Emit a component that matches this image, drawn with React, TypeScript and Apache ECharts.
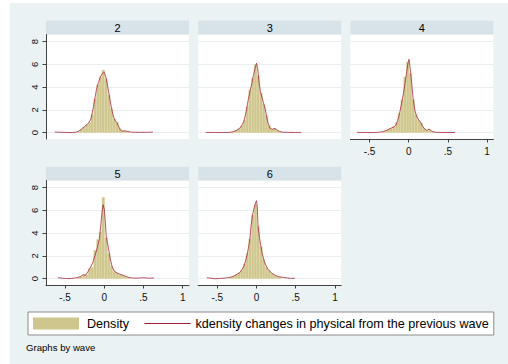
import React, { useEffect, useRef } from "react";
import * as echarts from "echarts";

// ---------- data ----------
const WAVES = ["2", "3", "4", "5", "6"];
const X_TICKS = [-0.5, 0, 0.5, 1];
const X_TICK_LABELS = ["-.5", "0", ".5", "1"];
const Y_TICKS = [0, 2, 4, 6, 8];
const X_MIN = -0.743;
const X_MAX = 1.08;
const Y_MIN = -0.55;
const Y_MAX = 8.62;

const BIN_START = -0.345;
const BIN_WIDTH = 0.035;

const HIST_2 = [0.1, 0.3, 0.5, 0.7, 0.9, 1.6, 3.0, 4.2, 4.9, 5.5, 4.7, 3.3, 2.1, 1.2, 0.9, 0.4, 0.15, 0.15, 0.1];
const HIST_3 = [0.04, 0.08, 0.2, 0.35, 0.6, 1.1, 2.3, 3.75, 4.8, 6.0, 5.0, 3.5, 2.5, 1.5, 0.6, 0.3, 0.35, 0.2, 0.08];
const HIST_4 = [0.08, 0.15, 0.3, 0.4, 0.55, 0.9, 1.7, 2.9, 4.9, 6.2, 5.2, 2.9, 1.6, 1.1, 0.85, 0.4, 0.2, 0.3, 0.1];
const HIST_5 = [0.1, 0.2, 0.35, 0.35, 0.9, 1.0, 2.5, 3.45, 4.1, 7.15, 3.6, 2.2, 1.1, 0.65, 0.5, 0.35, 0.3, 0.2, 0.1];
const HIST_6 = [0.12, 0.2, 0.35, 0.5, 0.75, 1.3, 2.2, 3.5, 5.6, 6.5, 4.6, 2.8, 1.7, 1.0, 0.7, 0.45, 0.3, 0.2, 0.12];

const KDE_2: [number, number][] = [
  [-0.63, 0.06], [-0.55, 0.04], [-0.45, 0.02], [-0.4, 0.02], [-0.35, 0.06], [-0.3, 0.25],
  [-0.25, 0.55], [-0.2, 0.85], [-0.17, 1.2], [-0.14, 2.2], [-0.12, 3.0], [-0.1, 3.8],
  [-0.075, 4.4], [-0.05, 4.9], [-0.025, 5.2], [0.0, 5.3], [0.02, 4.9], [0.04, 4.2],
  [0.06, 3.4], [0.08, 2.6], [0.1, 1.9], [0.12, 1.35], [0.14, 1.05], [0.16, 0.9],
  [0.18, 0.6], [0.2, 0.3], [0.22, 0.15], [0.25, 0.15], [0.27, 0.17], [0.3, 0.1],
  [0.35, 0.05], [0.45, 0.03], [0.55, 0.04], [0.62, 0.05],
];
const KDE_3: [number, number][] = [
  [-0.645, 0.03], [-0.55, 0.02], [-0.45, 0.02], [-0.35, 0.03], [-0.3, 0.08], [-0.26, 0.18],
  [-0.22, 0.35], [-0.19, 0.6], [-0.16, 1.0], [-0.13, 1.9], [-0.105, 2.9], [-0.08, 3.7],
  [-0.06, 4.3], [-0.04, 5.0], [-0.02, 5.6], [0.0, 6.1], [0.015, 5.7], [0.03, 4.6],
  [0.05, 3.6], [0.07, 3.1], [0.09, 2.6], [0.11, 2.1], [0.13, 1.4], [0.15, 0.8],
  [0.175, 0.38], [0.2, 0.3], [0.235, 0.38], [0.26, 0.25], [0.29, 0.12], [0.33, 0.05],
  [0.4, 0.03], [0.5, 0.02], [0.57, 0.03],
];
const KDE_4: [number, number][] = [
  [-0.66, 0.03], [-0.55, 0.02], [-0.45, 0.02], [-0.38, 0.04], [-0.33, 0.09], [-0.27, 0.24],
  [-0.22, 0.42], [-0.19, 0.5], [-0.16, 0.7], [-0.13, 1.3], [-0.11, 1.9], [-0.09, 2.6],
  [-0.07, 3.3], [-0.05, 4.2], [-0.03, 5.1], [-0.01, 6.1], [0.005, 6.45], [0.02, 5.6],
  [0.04, 4.2], [0.06, 2.8], [0.08, 1.95], [0.1, 1.45], [0.13, 1.1], [0.15, 0.95],
  [0.17, 0.65], [0.2, 0.35], [0.23, 0.2], [0.26, 0.32], [0.28, 0.2], [0.31, 0.08],
  [0.36, 0.03], [0.45, 0.02], [0.59, 0.02],
];
const KDE_5: [number, number][] = [
  [-0.59, 0.09], [-0.53, 0.04], [-0.48, 0.01], [-0.42, 0.02], [-0.35, 0.09], [-0.3, 0.2],
  [-0.27, 0.35], [-0.24, 0.3], [-0.21, 0.6], [-0.18, 0.95], [-0.15, 1.35], [-0.12, 2.0],
  [-0.09, 2.7], [-0.065, 3.4], [-0.045, 4.6], [-0.03, 5.8], [-0.015, 6.5], [0.0, 6.1],
  [0.013, 5.0], [0.025, 3.7], [0.05, 2.8], [0.075, 1.8], [0.1, 1.05], [0.13, 0.65],
  [0.17, 0.48], [0.2, 0.4], [0.24, 0.3], [0.28, 0.2], [0.31, 0.12], [0.36, 0.06],
  [0.42, 0.05], [0.5, 0.09], [0.56, 0.05], [0.634, 0.06],
];
const KDE_6: [number, number][] = [
  [-0.633, 0.09], [-0.58, 0.04], [-0.53, 0.0], [-0.47, 0.02], [-0.4, 0.06], [-0.335, 0.12],
  [-0.3, 0.2], [-0.27, 0.3], [-0.24, 0.42], [-0.21, 0.55], [-0.18, 0.85], [-0.16, 1.1],
  [-0.14, 1.55], [-0.12, 2.07], [-0.1, 2.8], [-0.085, 3.4], [-0.07, 4.6], [-0.05, 5.6],
  [-0.03, 6.2], [-0.01, 6.7], [0.0, 6.85], [0.01, 6.3], [0.02, 4.6], [0.04, 3.5],
  [0.07, 2.3], [0.1, 1.5], [0.14, 0.9], [0.17, 0.65], [0.2, 0.47], [0.24, 0.3],
  [0.28, 0.18], [0.34, 0.12], [0.4, 0.06], [0.45, 0.03], [0.49, 0.04],
];

const HISTS = [HIST_2, HIST_3, HIST_4, HIST_5, HIST_6];
const KDES = [KDE_2, KDE_3, KDE_4, KDE_5, KDE_6];

const HIST_NAME = "Density";
const KDE_NAME = "kdensity changes in physical from the previous wave";
const NOTE = "Graphs by wave";

// ---------- layout / style ----------
const COL_LEFT = [46, 198.2, 350.4];
const ROW_TOP = [34.5, 180.5];
const PLOT_W = 143;
const PLOT_H = 104.5;
const HEADER_H = 13.8;
const FONT = "'Liberation Sans', Arial, sans-serif";
const BAR_COLOR = "#CEC68C";
const BAR_EDGE = "#E3DEB6";
const LINE_COLOR = "#A8283C";
const AXIS_COLOR = "#404040";
const GRID_COLOR = "#E9EFF1";
const HEADER_COLOR = "#D7E3E8";
const BG_COLOR = "#EAF2F3";

export default function App() {
  const ref = useRef<HTMLDivElement>(null);

  useEffect(() => {
    if (!ref.current) return;
    const chart = echarts.init(ref.current, undefined, { renderer: "svg" });

    const grids: any[] = [];
    const xAxes: any[] = [];
    const yAxes: any[] = [];
    const series: any[] = [];
    const graphics: any[] = [];

    WAVES.forEach((w, i) => {
      const col = i % 3;
      const row = Math.floor(i / 3);
      const left = COL_LEFT[col];
      const top = ROW_TOP[row];
      const showX = i >= 2;
      const showY = col === 0;

      grids.push({
        left,
        top,
        width: PLOT_W,
        height: PLOT_H,
        show: true,
        backgroundColor: "#ffffff",
        borderWidth: 0,
      });

      xAxes.push({
        type: "value",
        gridIndex: i,
        min: X_MIN,
        max: X_MAX,
        axisLine: { show: showX, onZero: false, lineStyle: { color: AXIS_COLOR, width: 1 } },
        axisTick: {
          show: showX,
          customValues: X_TICKS,
          length: 3.5,
          lineStyle: { color: AXIS_COLOR, width: 1 },
        },
        axisLabel: {
          show: showX,
          customValues: X_TICKS,
          margin: 7,
          fontSize: 10,
          fontFamily: FONT,
          color: "#111",
          formatter: (v: number) => {
            const k = X_TICKS.findIndex((t) => Math.abs(t - v) < 1e-9);
            return k >= 0 ? X_TICK_LABELS[k] : "";
          },
        },
        splitLine: { show: false },
      });

      yAxes.push({
        type: "value",
        gridIndex: i,
        min: Y_MIN,
        max: Y_MAX,
        axisLine: { show: showY, onZero: false, lineStyle: { color: AXIS_COLOR, width: 1 } },
        axisTick: {
          show: showY,
          customValues: Y_TICKS,
          length: 3.5,
          lineStyle: { color: AXIS_COLOR, width: 1 },
        },
        axisLabel: {
          show: showY,
          customValues: Y_TICKS,
          rotate: 90,
          margin: 7,
          fontSize: 9.5,
          fontFamily: FONT,
          color: "#111",
        },
        splitLine: { show: true, lineStyle: { color: GRID_COLOR, width: 1 } },
      });

      const hist = HISTS[i];
      series.push({
        type: "custom",
        name: HIST_NAME,
        xAxisIndex: i,
        yAxisIndex: i,
        z: 2,
        itemStyle: { color: BAR_COLOR },
        data: hist.map((h, k) => [BIN_START + k * BIN_WIDTH, BIN_START + (k + 1) * BIN_WIDTH, h]),
        encode: { x: [0, 1], y: 2 },
        renderItem: (params: any, api: any) => {
          const p0 = api.coord([api.value(0), api.value(2)]);
          const p1 = api.coord([api.value(1), 0]);
          return {
            type: "rect",
            shape: { x: p0[0], y: p0[1], width: p1[0] - p0[0], height: p1[1] - p0[1] },
            style: { fill: BAR_COLOR, stroke: BAR_EDGE, lineWidth: 0.4 },
          };
        },
      });

      series.push({
        type: "line",
        name: KDE_NAME,
        xAxisIndex: i,
        yAxisIndex: i,
        z: 3,
        symbol: "none",
        showSymbol: false,
        smooth: false,
        lineStyle: { color: LINE_COLOR, width: 0.8 },
        itemStyle: { color: LINE_COLOR },
        data: KDES[i],
      });

      graphics.push({
        type: "rect",
        shape: { x: left, y: top - HEADER_H, width: PLOT_W, height: HEADER_H },
        style: { fill: HEADER_COLOR },
        silent: true,
      });
      graphics.push({
        type: "text",
        x: left + PLOT_W / 2,
        y: top - HEADER_H / 2,
        style: {
          text: w,
          fill: "#000",
          fontSize: 11,
          fontFamily: FONT,
          align: "center",
          verticalAlign: "middle",
        },
        silent: true,
      });
    });

    graphics.push({
      type: "text",
      x: 26,
      y: 347,
      style: {
        text: NOTE,
        fill: "#000",
        fontSize: 9.6,
        fontFamily: FONT,
        align: "left",
        verticalAlign: "middle",
      },
      silent: true,
    });

    chart.setOption({
      animation: false,
      grid: grids,
      xAxis: xAxes,
      yAxis: yAxes,
      series,
      graphic: graphics,
      legend: {
        left: 28,
        top: 312,
        orient: "horizontal",
        itemWidth: 46,
        itemHeight: 12,
        itemGap: 15,
        padding: [5, 5, 5, 5],
        borderColor: "#8C8C8C",
        borderWidth: 1,
        backgroundColor: "#ffffff",
        borderRadius: 0,
        selectedMode: false,
        textStyle: { fontSize: 12.6, fontFamily: FONT, color: "#000", lineHeight: 12 },
        data: [
          { name: HIST_NAME, icon: "rect", itemStyle: { color: BAR_COLOR }, textStyle: { padding: [0, 0, 0, 3] } },
          { name: KDE_NAME, itemStyle: { opacity: 0 }, lineStyle: { color: "#9E1830", width: 1 } },
        ],
      },
    });

    return () => chart.dispose();
  }, []);

  return (
    <div style={{ position: "fixed", left: 0, top: 0, width: 508, height: 364, background: "#ffffff" }}>
      <div style={{ position: "absolute", left: 10, top: 3, right: 0, bottom: 0, background: BG_COLOR }} />
      <div ref={ref} style={{ position: "absolute", left: 0, top: 0, width: 508, height: 364 }} />
    </div>
  );
}
